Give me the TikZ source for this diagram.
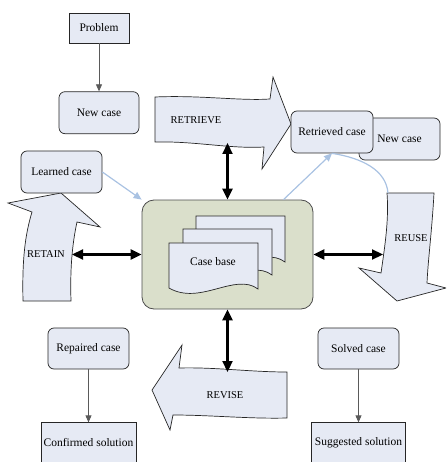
\documentclass[tikz,border=0pt]{standalone}
\usepackage{fontspec}
\setmainfont{Liberation Serif}
\newfontfamily\labelfont{Liberation Serif}
\usetikzlibrary{positioning,arrows.meta}

\definecolor{boxfill}{HTML}{E6EAF4}
\definecolor{basefill}{HTML}{DADFCB}
\definecolor{linkblue}{HTML}{A9C2E2}
\definecolor{flowgray}{HTML}{5A5A5A}

\begin{document}
\begin{tikzpicture}[
		x=1pt, y=-1pt,
		font=\labelfont\fontsize{11.5}{13}\selectfont,
		box/.style={draw=black!85, fill=boxfill, line width=0.7pt, align=center, inner sep=0pt},
		rbox/.style={box, rounded corners=6pt},
		page/.style={draw=black!85, fill=boxfill, line width=0.7pt},
		blockarr/.style={draw=black!85, fill=boxfill, line width=0.7pt, line join=miter},
		caps/.style={font=\labelfont\fontsize{10.5}{12}\selectfont},
		arr/.style={-{Triangle[length=7pt,width=6pt]}, draw=flowgray, fill=flowgray, line width=0.8pt},
		dbl/.style={{Triangle[length=11pt,width=10pt]}-{Triangle[length=11pt,width=10pt]}, line width=2.2pt},
		lnk/.style={draw=linkblue, line width=1.2pt},
		lnkarr/.style={lnk, -{Triangle[length=8pt,width=7pt]}}
		]
		\useasboundingbox (0,0) rectangle (446,462);
		\clip (0,0) rectangle (446,461);
		
		% input problem
		\node[box, minimum width=60pt, minimum height=30pt] (prob) at (99,28) {Problem};
		\node[rbox, minimum width=80pt, minimum height=42pt, below=48pt of prob] (newc) {New case};
		\draw[arr] (prob) -- (newc);
		
		% the four block arrows
		\draw[blockarr] (155,97) .. controls (200,95) and (240,101) .. (270,99) -- (273,77) -- (291,124) -- (262,169) -- (264,147) .. controls (230,149) and (195,141) .. (155,142) -- cycle;
		\node[caps] (retrieve) at (196,120) {RETRIEVE};
		
		\draw[blockarr] (387,193) -- (434,193) .. controls (432,230) and (428,260) .. (427,283) -- (446,288) -- (397,301) -- (359,268) -- (381,273) .. controls (385,245) and (389,220) .. (387,193) -- cycle;
		\node[caps] (reuse) at (411,238) {REUSE};
		
		\draw[blockarr] (287,372) .. controls (250,372) and (215,367) .. (179,368) -- (182,345) -- (152,390) -- (170,430) -- (173,415) .. controls (210,415) and (250,419) .. (287,418) -- cycle;
		\node[caps] (revise) at (225,395) {REVISE};
		
		\draw[blockarr] (23,301) .. controls (22,260) and (25,235) .. (32,212) -- (8,203) -- (61,193) -- (100,227) -- (77,222) .. controls (72,245) and (70,270) .. (71,301) -- cycle;
		\node[caps] (retain) at (46,254) {RETAIN};
		
		% case base
		\node[draw=black!70, fill=basefill, rounded corners=12pt, minimum width=171pt, minimum height=109pt, line width=0.8pt] (cb) at (227.5,254.5) {};
		\foreach \o in {27,14,0}
			\draw[page, shift={(\o,-\o)}] (169,243) -- (258,243) -- (258,289) .. controls (235,272) and (200,306) .. (169,288) -- cycle;
		\node (cbtext) at (213,262) {Case base};
		
		% cases round the cycle
		\node[rbox, minimum width=81pt, minimum height=42pt] (newc2) at (399.5,139) {New case};
		\node[rbox, minimum width=82pt, minimum height=42pt] (rtr) at (332,132) {Retrieved case};
		\node[rbox, minimum width=81pt, minimum height=42pt] (lrn) at (61.5,172) {Learned case};
		
		\coordinate (rtvb) at (227.5,143);
		\coordinate (rtnr) at (72,254.5);
		\coordinate (rusl) at (383,254.5);
		\coordinate (rvst) at (227.5,372);
		\coordinate (rust) at (388,193);
		
		\draw[dbl] (rtvb) -- (cb.north);
		\draw[dbl] (rtnr) -- (cb.west);
		\draw[dbl] (cb.east) -- (rusl);
		\draw[dbl] (cb.south) -- (rvst);
		
		\draw[lnkarr] (lrn.east) -- (cb.north west);
		\draw[lnkarr] ([xshift=56pt]cb.north) -- (rtr.south);
		\draw[lnk] (rtr.south) .. controls (362,158) and (386,170) .. (rust);
		
		% solutions
		\node[rbox, minimum width=81pt, minimum height=41pt] (rep) at (88.5,348.5) {Repaired case};
		\node[box, minimum width=95pt, minimum height=40pt, below=53pt of rep] (conf) {Confirmed solution};
		\draw[arr] (rep) -- (conf);
		
		\node[rbox, minimum width=81pt, minimum height=41pt] (solv) at (358.5,348.5) {Solved case};
		\node[box, minimum width=94pt, minimum height=40pt, below=53pt of solv] (sugg) {Suggested solution};
		\draw[arr] (solv) -- (sugg);
	\end{tikzpicture}
\end{document}
